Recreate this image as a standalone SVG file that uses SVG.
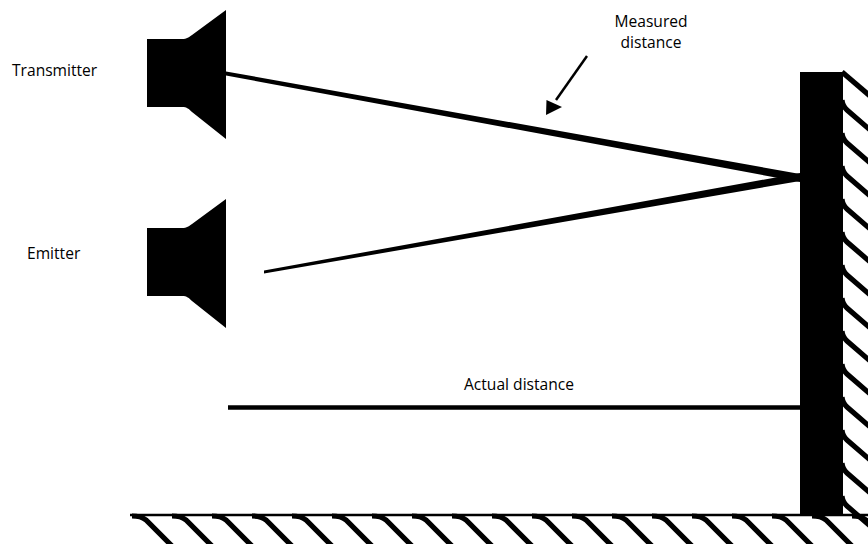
<svg xmlns="http://www.w3.org/2000/svg" width="868" height="544" viewBox="0 0 868 544">
  <style>
    .label { font-family: "Open Sans", "Liberation Sans", sans-serif; font-size: 15.6px; fill: #000; }
    .solid { fill: #000; }
    .hatch { fill: none; stroke: #000; stroke-width: 5.2; stroke-linecap: butt; }
    .line { stroke: #000; fill: none; }
  </style>
  <defs>
    <!-- horn-shaped speaker body -->
    <path id="speaker" d="M147 39 H182 C187 39 189 37 192 35 L226 10 V139 L192 112 C189 109 187 107 182 107 H147 Z"/>
  </defs>

  <rect width="868" height="544" fill="#fff"/>

  <g id="transmitter">
    <use href="#speaker" class="solid"/>
    <text class="label" x="12" y="76">Transmitter</text>
  </g>

  <g id="emitter">
    <use href="#speaker" class="solid" transform="translate(0,189)"/>
    <text class="label" x="27" y="259">Emitter</text>
  </g>

  <g id="wall">
    <rect class="solid" x="800" y="72" width="43" height="443"/>
    <g class="hatch">
      <path d="M842 72 L870 96"/>
      <path d="M842 100 Q842.5 106 847 110 L876 135"/>
      <path d="M842 133 Q842.5 139 847 143 L876 168"/>
      <path d="M842 166 Q842.5 172 847 176 L876 201"/>
      <path d="M842 199 Q842.5 205 847 209 L876 234"/>
      <path d="M842 232 Q842.5 238 847 242 L876 267"/>
      <path d="M842 265 Q842.5 271 847 275 L876 300"/>
      <path d="M842 298 Q842.5 304 847 308 L876 333"/>
      <path d="M842 331 Q842.5 337 847 341 L876 366"/>
      <path d="M842 364 Q842.5 370 847 374 L876 399"/>
      <path d="M842 397 Q842.5 403 847 407 L876 432"/>
      <path d="M842 430 Q842.5 436 847 440 L876 465"/>
      <path d="M842 463 Q842.5 469 847 473 L876 498"/>
      <path d="M842 496 Q842.5 502 847 506 L876 531"/>
    </g>
  </g>

  <g id="ground">
    <line class="line" x1="130" y1="515" x2="868" y2="515" stroke-width="2.5"/>
    <g class="hatch">
      <path d="M132 516 Q141 516 146 520 L174 548"/>
      <path d="M172 516 Q181 516 186 520 L214 548"/>
      <path d="M212 516 Q221 516 226 520 L254 548"/>
      <path d="M252 516 Q261 516 266 520 L294 548"/>
      <path d="M292 516 Q301 516 306 520 L334 548"/>
      <path d="M332 516 Q341 516 346 520 L374 548"/>
      <path d="M372 516 Q381 516 386 520 L414 548"/>
      <path d="M412 516 Q421 516 426 520 L454 548"/>
      <path d="M452 516 Q461 516 466 520 L494 548"/>
      <path d="M492 516 Q501 516 506 520 L534 548"/>
      <path d="M532 516 Q541 516 546 520 L574 548"/>
      <path d="M572 516 Q581 516 586 520 L614 548"/>
      <path d="M612 516 Q621 516 626 520 L654 548"/>
      <path d="M652 516 Q661 516 666 520 L694 548"/>
      <path d="M692 516 Q701 516 706 520 L734 548"/>
      <path d="M732 516 Q741 516 746 520 L774 548"/>
      <path d="M772 516 Q781 516 786 520 L814 548"/>
      <path d="M812 516 Q821 516 826 520 L854 548"/>
      <path d="M852 516 Q861 516 866 520 L894 548"/>
    </g>
  </g>

  <g id="connectors">
    <!-- outgoing and reflected beams, tapering toward the wall -->
    <polygon class="solid" points="226,71.5 800,174 800,182 226,75.5"/>
    <polygon class="solid" points="264,270.5 800,173 800,181 264,273.5"/>
    <!-- actual distance -->
    <line class="line" x1="228" y1="407.5" x2="800" y2="407.5" stroke-width="4.5"/>
    <!-- pointer to the measured path -->
    <line class="line" x1="587" y1="56" x2="556" y2="100" stroke-width="2.5"/>
    <polygon class="solid" points="546,115 546.5,100 562,107"/>
  </g>

  <g id="labels">
    <text class="label" x="651" y="27" text-anchor="middle">Measured</text>
    <text class="label" x="651" y="48" text-anchor="middle">distance</text>
    <text class="label" x="519" y="390" text-anchor="middle">Actual distance</text>
  </g>
</svg>
